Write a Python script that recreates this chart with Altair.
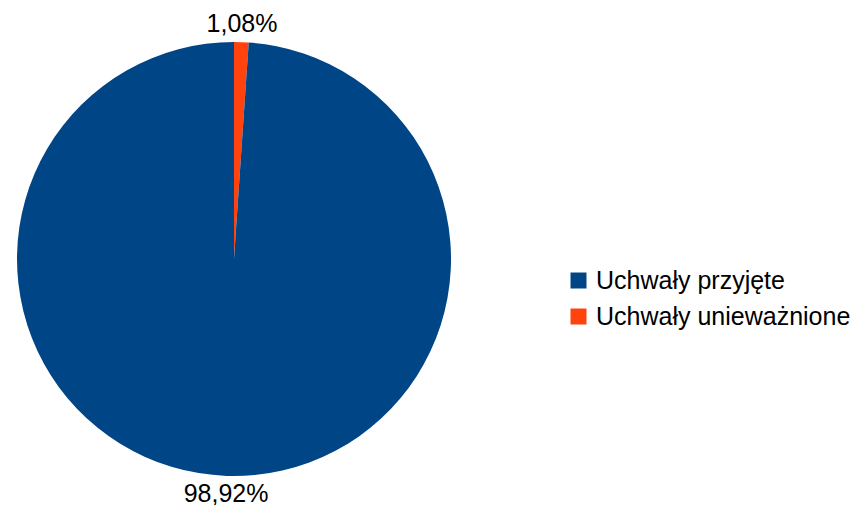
import altair as alt
import pandas as pd

categories = ["Uchwały unieważnione", "Uchwały przyjęte"]
values = [1.08, 98.92]
labels = ["1,08%", "98,92%"]
colors = ["#ff420e", "#004586"]
legend_order = ["Uchwały przyjęte", "Uchwały unieważnione"]
legend_colors = ["#004586", "#ff420e"]

df = pd.DataFrame({"cat": categories, "val": values, "lab": labels, "ord": [0, 1]})

cx, cy, r = 226, 251, 217

base = alt.Chart(df).encode(
    theta=alt.Theta("val:Q", stack=True),
    order=alt.Order("ord:Q"),
    x=alt.value(cx),
    y=alt.value(cy),
)

arc = base.mark_arc(radius=r, strokeWidth=0).encode(
    color=alt.Color(
        "cat:N",
        scale=alt.Scale(domain=legend_order, range=legend_colors),
        legend=alt.Legend(
            title=None,
            orient="none",
            legendX=558,
            legendY=260,
            symbolType="square",
            symbolSize=256,
            symbolStrokeWidth=0,
            labelFontSize=25,
            labelFont="Liberation Sans",
            labelColor="#000000",
            labelOffset=5,
            rowPadding=10,
            labelLimit=400,
        ),
    )
)

text = base.mark_text(radius=235, fontSize=25, font="Liberation Sans", color="#000000",
                      align="center", baseline="middle").encode(text="lab:N")

chart = (arc + text).properties(
    width=845, height=497, padding=0,
    autosize=alt.AutoSizeParams(type="none"),
).configure(font="Liberation Sans").configure_view(stroke=None)

chart.save("out.html", embed_options={"renderer": "svg", "actions": False})
